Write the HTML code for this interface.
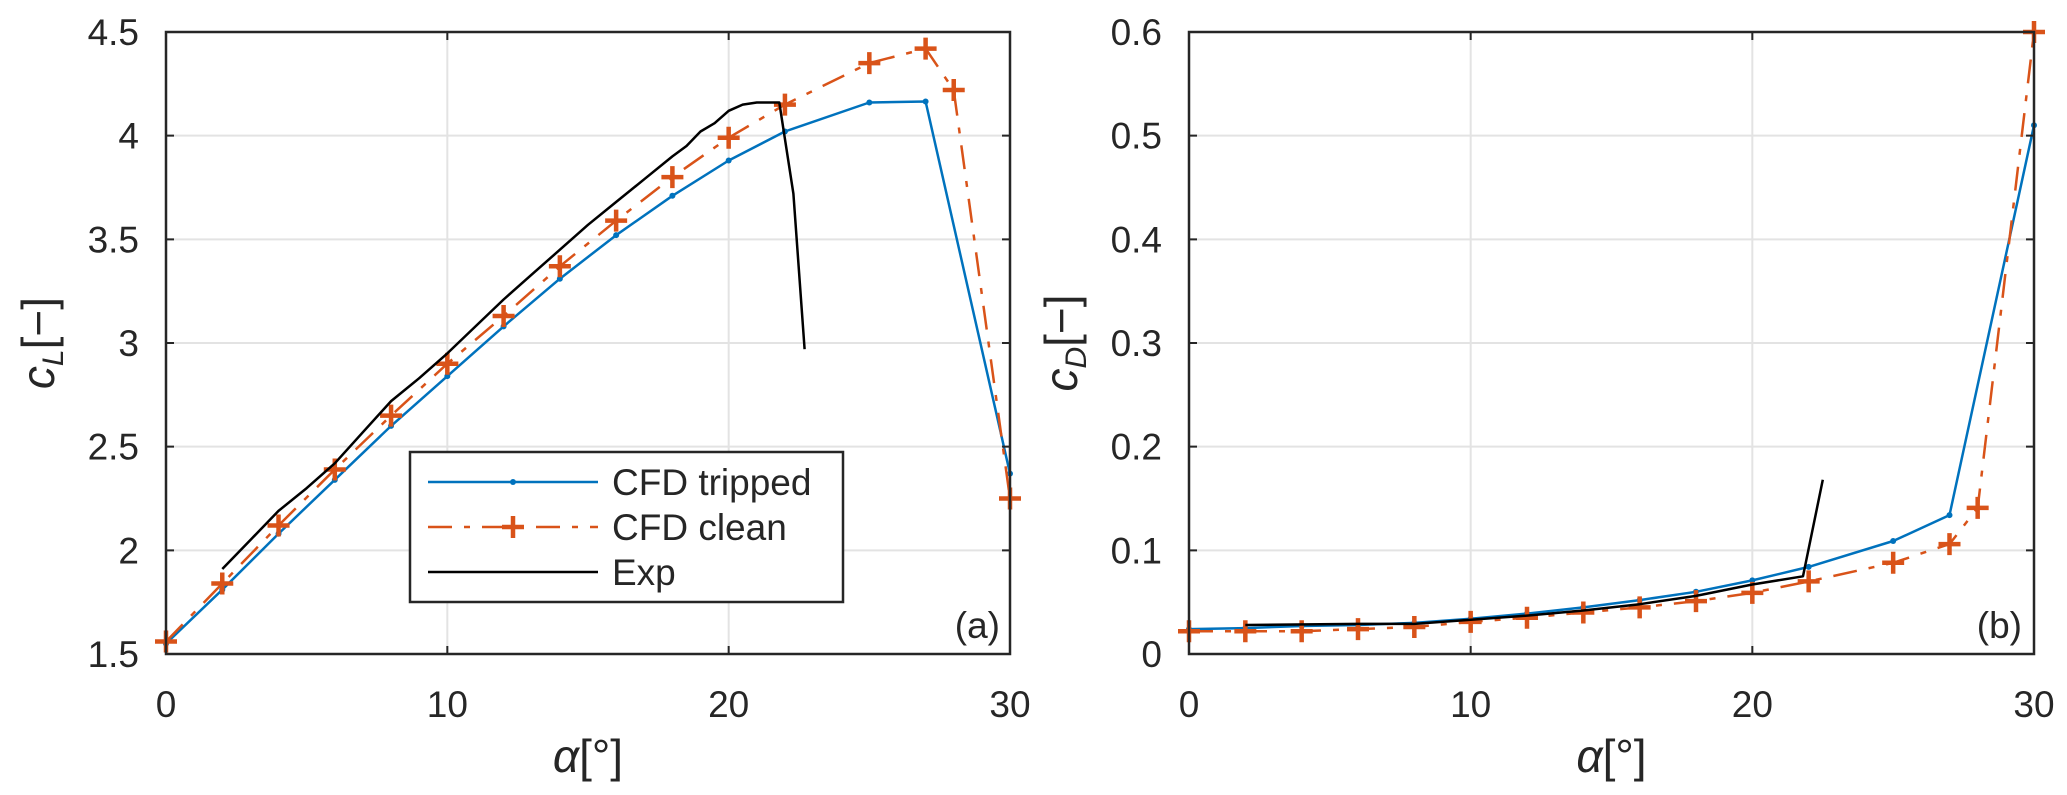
<!DOCTYPE html>
<html><head><meta charset="utf-8"><style>
body{margin:0;background:#fff}
svg{display:block}
text{font-family:"Liberation Sans",sans-serif;fill:#262626}
</style></head><body>
<svg id="fig" width="2067" height="795" viewBox="0 0 2067 795" xmlns="http://www.w3.org/2000/svg"></svg>
<script>
const alphaCFD = [0,2,4,6,8,10,12,14,16,18,20,22,25,27,30];
const alphaClean = [0,2,4,6,8,10,12,14,16,18,20,22,25,27,28,30];
const clTripped = [1.55,1.81,2.08,2.34,2.6,2.84,3.08,3.31,3.52,3.71,3.88,4.02,4.16,4.165,2.37];
const clClean = [1.56,1.84,2.12,2.39,2.65,2.9,3.13,3.37,3.59,3.8,3.99,4.15,4.35,4.42,4.22,2.25];
const alphaExpL = [2,3,4,5,6,7,8,9,10,11,12,13,14,15,16,17,18,18.5,19,19.5,20,20.5,21,21.8,22.3,22.7];
const clExp = [1.91,2.05,2.19,2.3,2.42,2.57,2.72,2.83,2.95,3.08,3.21,3.33,3.45,3.57,3.68,3.79,3.9,3.95,4.02,4.06,4.12,4.15,4.16,4.16,3.72,2.97];
const cdTripped = [0.024,0.025,0.027,0.028,0.03,0.034,0.039,0.045,0.052,0.06,0.071,0.084,0.109,0.134,0.51];
const cdClean = [0.022,0.022,0.022,0.024,0.026,0.031,0.035,0.04,0.045,0.051,0.059,0.07,0.088,0.106,0.141,0.6];
const alphaExpD = [2,6,8,10,12,14,16,18,20,21.8,22.5];
const cdExp = [0.028,0.029,0.029,0.033,0.037,0.042,0.048,0.056,0.067,0.075,0.168];
const xTicks = [0,10,20,30];
const clTicks = [1.5,2,2.5,3,3.5,4,4.5];
const clTickLabels = ["1.5","2","2.5","3","3.5","4","4.5"];
const cdTicks = [0,0.1,0.2,0.3,0.4,0.5,0.6];
const cdTickLabels = ["0","0.1","0.2","0.3","0.4","0.5","0.6"];

const NS="http://www.w3.org/2000/svg";
const svg=document.getElementById('fig');
function mk(tag,attrs,parent){const e=document.createElementNS(NS,tag);for(const k in attrs)e.setAttribute(k,attrs[k]);(parent||svg).appendChild(e);return e;}
const BLUE="#0072bd",RED="#d95319";

function panel(name,L,R,T,B,ymin,ymax,yt,ytl,series,tag,tagX,ylab){
  const g=mk('g',{});
  
  
  const sx=v=>L+(v-0)/(30-0)*(R-L);
  const sy=v=>B-(v-ymin)/(ymax-ymin)*(B-T);
  xTicks.forEach(t=>{const l=mk('line',{x1:sx(t),x2:sx(t),y1:T,y2:B,stroke:'#e3e3e3','stroke-width':2},g);
    });
  yt.forEach(t=>{const l=mk('line',{x1:L,x2:R,y1:sy(t),y2:sy(t),stroke:'#e3e3e3','stroke-width':2},g);
    });
  series.forEach(s=>{
    const pts=s.x.map((v,i)=>sx(v).toFixed(1)+','+sy(s.y[i]).toFixed(1)).join(' ');
    const p=mk('polyline',{points:pts,fill:'none',stroke:s.color,'stroke-width':s.w,'stroke-dasharray':s.dash||'none','stroke-linejoin':'round'},g);
    
    s.x.forEach((v,i)=>{
      if(s.marker==='dot'){const c=mk('circle',{cx:sx(v),cy:sy(s.y[i]),r:3,fill:s.color},g);
        }
      else if(s.marker==='plus'){const x=sx(v),y=sy(s.y[i]);
        const c=mk('path',{d:`M${x-11},${y}H${x+11}M${x},${y-11}V${y+11}`,stroke:s.color,'stroke-width':4.5},g);
        }
    });
  });
  const box=mk('rect',{x:L,y:T,width:R-L,height:B-T,fill:'none',stroke:'#262626','stroke-width':2.5},g);
  
  xTicks.forEach(t=>{mk('path',{d:`M${sx(t)},${B}v-8M${sx(t)},${T}v8`,stroke:'#262626','stroke-width':2},g);
    const tx=mk('text',{x:sx(t),y:B+63,'font-size':37,'text-anchor':'middle'},g);tx.textContent=t;
    });
  yt.forEach((t,i)=>{mk('path',{d:`M${L},${sy(t)}h8M${R},${sy(t)}h-8`,stroke:'#262626','stroke-width':2},g);
    const tx=mk('text',{x:L-27,y:sy(t)+13,'font-size':37,'text-anchor':'end'},g);tx.textContent=ytl[i];
    });
  const tg=mk('text',{x:tagX,y:B-16,'font-size':37,'text-anchor':'end',fill:'#000'},g);tg.textContent=tag;
  
  const xl=mk('text',{x:(L+R)/2,y:B+118,'font-size':46,'text-anchor':'middle','font-family':'Liberation Serif, serif'},g);
  xl.innerHTML='<tspan font-style="italic">α</tspan>[°]';
  
  const yl=mk('text',{x:0,y:0,'font-size':46,'text-anchor':'middle','font-family':'Liberation Serif, serif',transform:`translate(${L-112},${(T+B)/2}) rotate(-90)`},g);
  yl.innerHTML='<tspan font-style="italic">c</tspan><tspan font-style="italic" font-size="30" dy="9">'+ylab+'</tspan><tspan dy="-9">[−]</tspan>';
  
  return sx;
}

panel('lift-chart',166,1010,32,654,1.5,4.5,clTicks,clTickLabels,[
  {name:'cl-tripped',x:alphaCFD,y:clTripped,color:BLUE,w:2.5,marker:'dot'},
  {name:'cl-clean',x:alphaClean,y:clClean,color:RED,w:2.5,dash:'24 12 6 12',marker:'plus'},
  {name:'cl-exp',x:alphaExpL,y:clExp,color:'#000',w:2.5}
],'(a)',1000,'L');
panel('drag-chart',1189,2034,32,654,0,0.6,cdTicks,cdTickLabels,[
  {name:'cd-tripped',x:alphaCFD,y:cdTripped,color:BLUE,w:2.5,marker:'dot'},
  {name:'cd-clean',x:alphaClean,y:cdClean,color:RED,w:2.5,dash:'24 12 6 12',marker:'plus'},
  {name:'cd-exp',x:alphaExpD,y:cdExp,color:'#000',w:2.5}
],'(b)',2022,'D');

// legend
const lg=mk('g',{});


mk('rect',{x:410,y:452,width:433,height:150,fill:'#fff',stroke:'#262626','stroke-width':2.5},lg);
const entries=[['CFD tripped',BLUE,'none','dot',482],['CFD clean',RED,'24 12 6 12','plus',527],['Exp','#000','none','',572]];
entries.forEach(e=>{
  const ge=mk('g',{},lg);
  
  
  mk('line',{x1:428,x2:598,y1:e[4],y2:e[4],stroke:e[1],'stroke-width':2.5,'stroke-dasharray':e[2]},ge);
  if(e[3]==='dot')mk('circle',{cx:513,cy:e[4],r:3,fill:e[1]},ge);
  if(e[3]==='plus')mk('path',{d:`M502,${e[4]}H524M513,${e[4]-11}V${e[4]+11}`,stroke:e[1],'stroke-width':4.5},ge);
  const t=mk('text',{x:612,y:e[4]+13,'font-size':37,fill:'#000'},ge);t.textContent=e[0];
});
</script>
</body></html>
